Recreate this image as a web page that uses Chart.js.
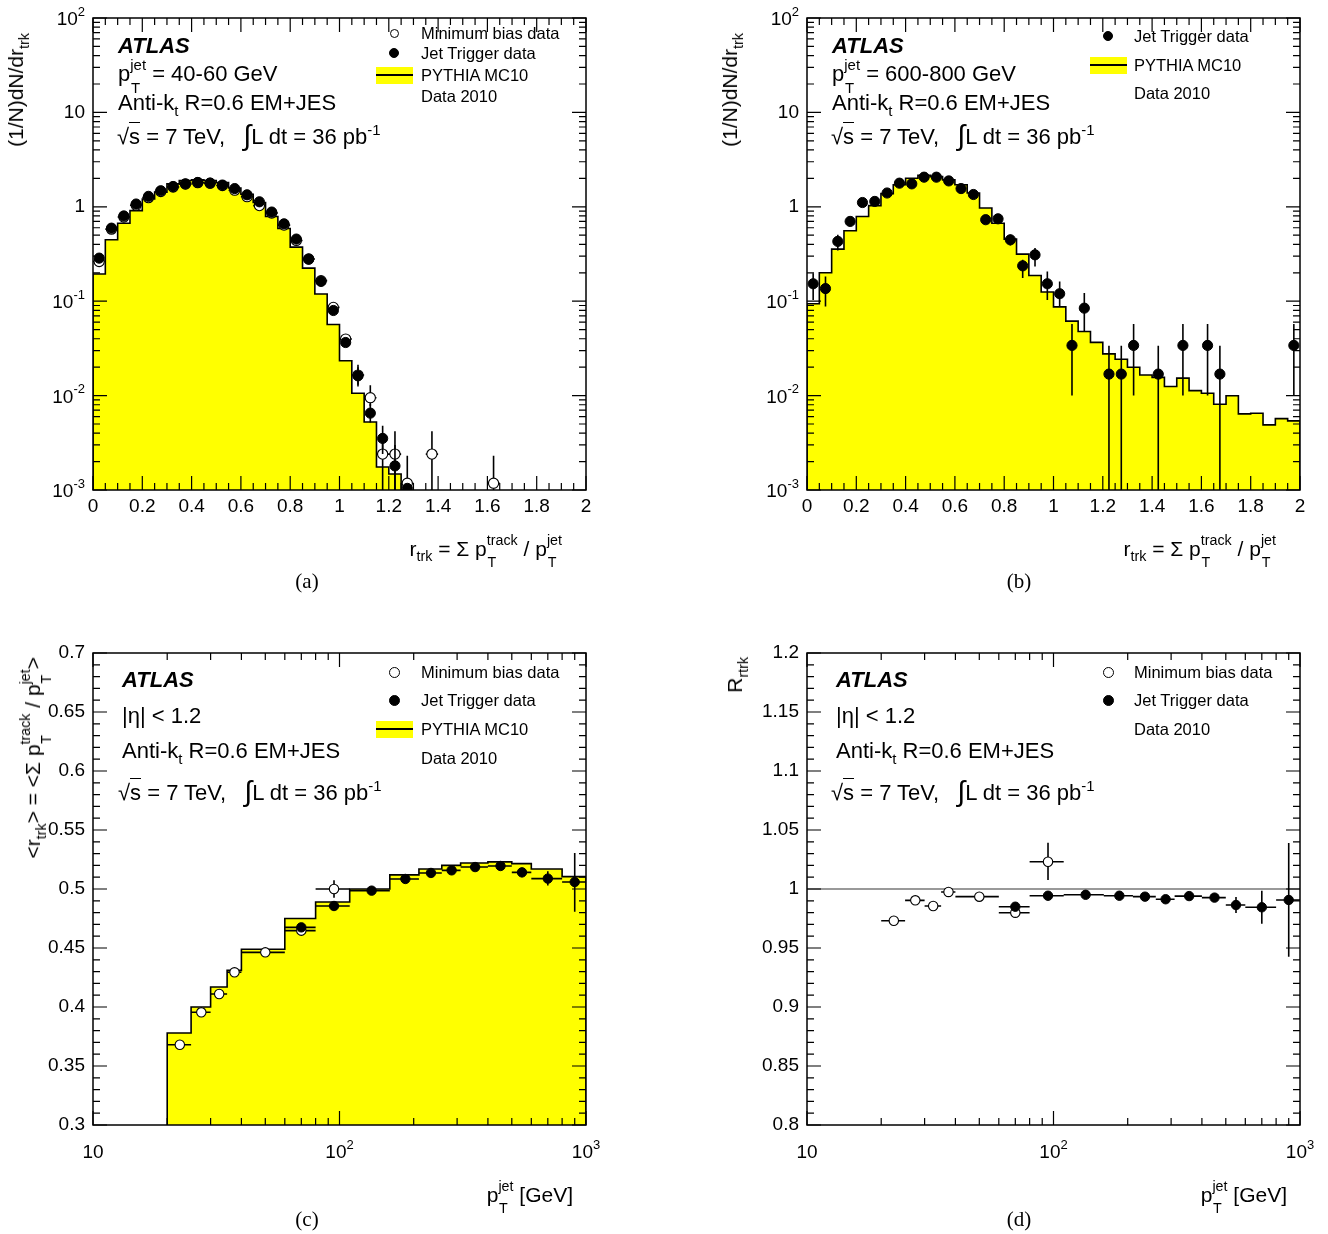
<!DOCTYPE html>
<html>
<head>
<meta charset="utf-8">
<script src="https://cdn.jsdelivr.net/npm/chart.js@4.4.1/dist/chart.umd.min.js"></script>
<style>
    body { margin: 0; background: #fff; }
    #page { position: relative; width: 1328px; height: 1234px; overflow: hidden; font-family: "Liberation Sans", Arial, Helvetica, sans-serif; color: #000; }
    canvas { position: absolute; left: 0; top: 0; }
    .t { position: absolute; white-space: nowrap; line-height: 1; }
    .ss { position: relative; display: inline-block; font-size: 0.68em; line-height: 1; }
    .ss .u { position: relative; top: -0.73em; }
    .ss .d { position: absolute; left: 0.05em; top: 0.8em; }
    .sb { font-size: 0.68em; position: relative; top: 0.4em; }
    .sp { font-size: 0.68em; position: relative; top: -0.6em; }
    .ov { border-top: 1.5px solid #000; padding-top: 1px; }
    .int { font-size: 1.3em; position: relative; top: 0.04em; }
    .cap { font-family: "Liberation Serif", "Times New Roman", serif; }
    .mk { position: absolute; border-radius: 50%; border: 1px solid #000; box-sizing: border-box; }
</style>
</head>
<body>
<div id="page">
    <canvas id="chartA" width="1328" height="1234"></canvas>
    <canvas id="chartB" width="1328" height="1234"></canvas>
    <canvas id="chartC" width="1328" height="1234"></canvas>
    <canvas id="chartD" width="1328" height="1234"></canvas>
</div>
<script>
// === Données ===
// bins en r_trk (a, b)
const rEdges = [0, 0.05, 0.1, 0.15, 0.2, 0.25, 0.3, 0.35, 0.4, 0.45, 0.5, 0.55, 0.6, 0.65, 0.7, 0.75, 0.8, 0.85, 0.9, 0.95,
    1, 1.05, 1.1, 1.15, 1.2, 1.25, 1.3, 1.35, 1.4, 1.45, 1.5, 1.55, 1.6, 1.65, 1.7, 1.75, 1.8, 1.85, 1.9, 1.95, 2];

// (a) pT jet 40-60 GeV
const mcA = [0.194, 0.447, 0.67, 0.91, 1.21, 1.43, 1.75, 1.9, 1.93, 1.9, 1.81, 1.58, 1.36, 1.11, 0.79, 0.59, 0.374, 0.224,
    0.119, 0.0567, 0.0234, 0.0106, 0.00525, 0.00175, 0.00148];
const jetA = [0.286, 0.594, 0.80, 1.07, 1.29, 1.48, 1.64, 1.75, 1.81, 1.78, 1.70, 1.56, 1.34, 1.13, 0.88, 0.66, 0.455, 0.279,
    0.162, 0.0797, 0.0365, 0.0162, 0.00652, 0.00352, 0.0018, 0.00104];
const mbA = [0.263, 0.58, 0.78, 1.04, 1.25, 1.45, 1.62, 1.74, 1.80, 1.78, 1.68, 1.50, 1.28, 1.03, 0.86, 0.64, 0.44, 0.28,
    0.165, 0.086, 0.0397, 0.0165, 0.0095, 0.0024, 0.0024, 0.00118, null, 0.0024, null, null, null, null, 0.00118];
const jetAErr = { 20: [0.033, 0.041], 21: [0.0125, 0.0212], 22: [0.0052, 0.0082], 23: [0.0024, 0.0048], 24: [0.0009, 0.003] };
const mbAErr = { 21: [0.013, 0.02], 22: [0.0077, 0.0129], 23: [0, 0.004], 24: [0, 0.0042], 25: [0, 0.0023], 27: [0, 0.0042], 32: [0, 0.0023] };

// (b) pT jet 600-800 GeV
const mcB = [0.094, 0.2, 0.356, 0.557, 0.79, 1.03, 1.38, 1.71, 2.01, 2.15, 2.09, 1.93, 1.71, 1.40, 0.97, 0.67, 0.455, 0.315,
    0.187, 0.125, 0.087, 0.0615, 0.0478, 0.0366, 0.0277, 0.0243, 0.020, 0.0165, 0.0156, 0.0125, 0.0153, 0.0113, 0.0106,
    0.0081, 0.00995, 0.0064, 0.0065, 0.0049, 0.0057, 0.0054];
const jetB = [0.153, 0.136, 0.43, 0.70, 1.11, 1.14, 1.40, 1.78, 1.75, 2.06, 2.06, 1.88, 1.56, 1.35, 0.73, 0.746, 0.447, 0.237,
    0.31, 0.153, 0.12, 0.034, 0.0844, null, 0.0169, 0.0169, 0.034, null, 0.0169, null, 0.034, null, 0.034, 0.0169,
    null, null, null, null, null, 0.034];
const jetBErr = { 0: [0.103, 0.198], 1: [0.088, 0.183], 2: [0.344, 0.505], 3: [0.64, 0.76], 14: [0.68, 0.78], 15: [0.70, 0.80],
    16: [0.39, 0.51], 17: [0.176, 0.275], 18: [0.233, 0.365], 19: [0.103, 0.206], 20: [0.088, 0.162], 21: [0.01, 0.0575],
    22: [0.048, 0.122], 24: [0, 0.0337], 25: [0, 0.0337], 26: [0.01, 0.0575], 28: [0, 0.0337], 30: [0.01, 0.0575],
    32: [0.01, 0.0575], 33: [0, 0.0337], 39: [0.01, 0.0575] };

// bins en pT jet (c, d)
const ptEdges = [20, 25, 30, 35, 40, 60, 80, 110, 160, 210, 260, 310, 400, 500, 600, 800, 1000];
const ptCenters = [22.5, 27.5, 32.5, 37.5, 50, 70, 95, 135, 185, 235, 285, 355, 450, 550, 700, 900];

// (c) <r_trk>
const mcC = [0.378, 0.400, 0.417, 0.431, 0.449, 0.475, 0.489, 0.500, 0.512, 0.517, 0.520, 0.522, 0.523, 0.5215, 0.517, 0.5105];
const mbC = [0.368, 0.3955, 0.411, 0.4294, 0.4463, 0.4647, 0.500];
const jetC = [null, null, null, null, null, 0.4675, 0.4856, 0.4986, 0.5085, 0.5136, 0.5158, 0.5186, 0.5195, 0.5141, 0.5088, 0.5059];
const mbCErr = { 6: [0.4925, 0.5075] };
const jetCErr = { 13: [0.510, 0.518], 14: [0.503, 0.515], 15: [0.4808, 0.5305] };

// (d) R_rtrk
const mbD = [0.9731, 0.9904, 0.9856, 0.9975, 0.9935, 0.9799, 1.0231];
const jetD = [null, null, null, null, null, 0.985, 0.9943, 0.9951, 0.9943, 0.9935, 0.9913, 0.994, 0.9927, 0.9864, 0.9845, 0.9907];
const mbDErr = { 5: [0.976, 0.984], 6: [1.0076, 1.0392] };
const jetDErr = { 13: [0.9796, 0.9932], 14: [0.9705, 0.9985], 15: [0.9426, 1.039] };

// graduations
const rTickValues = [0, 0.2, 0.4, 0.6, 0.8, 1, 1.2, 1.4, 1.6, 1.8, 2];
const rTickLabels = ['0', '0.2', '0.4', '0.6', '0.8', '1', '1.2', '1.4', '1.6', '1.8', '2'];
const decadeValues = [1e-3, 1e-2, 1e-1, 1, 10, 100];
const decadeLabels = [['10', '-3'], ['10', '-2'], ['10', '-1'], ['1', ''], ['10', ''], ['10', '2']];
const ptTickValues = [10, 100, 1000];
const ptTickLabels = [['10', ''], ['10', '2'], ['10', '3']];
const meanTickValues = [0.3, 0.35, 0.4, 0.45, 0.5, 0.55, 0.6, 0.65, 0.7];
const meanTickLabels = ['0.3', '0.35', '0.4', '0.45', '0.5', '0.55', '0.6', '0.65', '0.7'];
const ratioTickValues = [0.8, 0.85, 0.9, 0.95, 1, 1.05, 1.1, 1.15, 1.2];
const ratioTickLabels = ['0.8', '0.85', '0.9', '0.95', '1', '1.05', '1.1', '1.15', '1.2'];

const W = 1328, H = 1234;
const YELLOW = '#ffff00';
const FONT = '"Liberation Sans", Arial, Helvetica, sans-serif';

// === Construction des points ===
function histPoints(edges, vals, yMin) {
    const pts = [{ x: edges[0], y: yMin }];
    vals.forEach((v, i) => pts.push({ x: edges[i], y: v }));
    pts.push({ x: edges[vals.length], y: vals[vals.length - 1] });
    pts.push({ x: edges[vals.length], y: yMin });
    return pts;
}

function pointSet(centers, edges, vals, errs) {
    const pts = [];
    vals.forEach((v, i) => {
        if (v === null || v === undefined) return;
        const p = { x: centers[i], y: v, xlo: edges[i], xhi: edges[i + 1] };
        if (errs[i]) { p.ylo = errs[i][0]; p.yhi = errs[i][1]; }
        pts.push(p);
    });
    return pts;
}

const rCenters = rEdges.slice(0, -1).map((e, i) => (e + rEdges[i + 1]) / 2);

function minorTicks(from, to, step) {
    const out = [];
    for (let v = from; v <= to + 1e-9; v += step) out.push(+v.toFixed(6));
    return out;
}
function logMinor(d0, d1) {
    const out = [];
    for (let d = d0; d < d1; d++) for (let k = 2; k <= 9; k++) out.push(k * Math.pow(10, d));
    return out;
}

// === Plugins : barres d'erreur + cadre style ROOT ===
const errorBars = {
    id: 'errorBars',
    beforeDatasetDraw(chart, args) {
        const ds = chart.data.datasets[args.index];
        if (!ds.errorBars) return;
        const { ctx, chartArea: a, scales: { x, y } } = chart;
        const py = v => (v <= y.min ? a.bottom + 5 : y.getPixelForValue(v));
        ctx.save();
        ctx.beginPath();
        ctx.rect(a.left, a.top, a.right - a.left, a.bottom - a.top);
        ctx.clip();
        ctx.strokeStyle = '#000';
        ctx.lineWidth = 1.6;
        ctx.beginPath();
        ds.data.forEach(p => {
            const cx = x.getPixelForValue(p.x), cy = y.getPixelForValue(p.y);
            if (ds.xErr) {
                ctx.moveTo(x.getPixelForValue(p.xlo), cy);
                ctx.lineTo(x.getPixelForValue(p.xhi), cy);
            }
            if (p.ylo !== undefined) {
                ctx.moveTo(cx, py(p.ylo));
                ctx.lineTo(cx, py(p.yhi));
            }
        });
        ctx.stroke();
        ctx.restore();
    }
};

function drawLabel(ctx, base, exp, x, y, align) {
    ctx.font = '19px ' + FONT;
    const bw = ctx.measureText(base).width;
    ctx.font = '13px ' + FONT;
    const ew = exp ? ctx.measureText(exp).width : 0;
    const total = bw + ew;
    let x0 = align === 'right' ? x - total : x - total / 2;
    ctx.textAlign = 'left';
    ctx.textBaseline = 'middle';
    ctx.font = '19px ' + FONT;
    ctx.fillText(base, x0, y);
    if (exp) {
        ctx.font = '13px ' + FONT;
        ctx.fillText(exp, x0 + bw, y - 8);
    }
}

const rootFrame = {
    id: 'rootFrame',
    beforeDatasetsDraw(chart, args, o) {
        if (o.refLine === undefined) return;
        const { ctx, chartArea: a, scales: { y } } = chart;
        const py = y.getPixelForValue(o.refLine);
        ctx.save();
        ctx.strokeStyle = '#777';
        ctx.lineWidth = 1.6;
        ctx.beginPath();
        ctx.moveTo(a.left, py);
        ctx.lineTo(a.right, py);
        ctx.stroke();
        ctx.restore();
    },
    afterDraw(chart, args, o) {
        const { ctx, chartArea: a, scales: { x, y } } = chart;
        ctx.save();
        ctx.strokeStyle = '#000';
        ctx.lineWidth = 1.2;
        ctx.beginPath();
        const xt = (v, len) => {
            const px = x.getPixelForValue(v);
            ctx.moveTo(px, a.bottom); ctx.lineTo(px, a.bottom - len);
            ctx.moveTo(px, a.top); ctx.lineTo(px, a.top + len);
        };
        const yt = (v, len) => {
            const py = y.getPixelForValue(v);
            ctx.moveTo(a.left, py); ctx.lineTo(a.left + len, py);
            ctx.moveTo(a.right, py); ctx.lineTo(a.right - len, py);
        };
        o.xMinor.forEach(v => xt(v, 7));
        o.xMajor.forEach(v => xt(v, 14));
        o.yMinor.forEach(v => yt(v, 7));
        o.yMajor.forEach(v => yt(v, 14));
        ctx.stroke();
        ctx.lineWidth = 1.5;
        ctx.strokeRect(a.left, a.top, a.right - a.left, a.bottom - a.top);
        ctx.fillStyle = '#000';
        o.xMajor.forEach((v, i) => {
            const lab = o.xLabels[i];
            const [b, e] = Array.isArray(lab) ? lab : [lab, ''];
            drawLabel(ctx, b, e, x.getPixelForValue(v), a.bottom + o.xLabelOffset, 'center');
        });
        o.yMajor.forEach((v, i) => {
            const lab = o.yLabels[i];
            const [b, e] = Array.isArray(lab) ? lab : [lab, ''];
            drawLabel(ctx, b, e, a.left - 8, y.getPixelForValue(v) + (e ? 2 : 0), 'right');
        });
        ctx.restore();
    }
};

// === Création des graphiques ===
function histDataset(edges, vals, yMin) {
    return {
        type: 'scatter', data: histPoints(edges, vals, yMin), showLine: true, stepped: 'before',
        fill: 'start', backgroundColor: YELLOW, borderColor: '#000', borderWidth: 1.6,
        pointRadius: 0, order: 3
    };
}
function markerDataset(pts, filled, r, xErr) {
    return {
        type: 'scatter', data: pts, errorBars: true, xErr: xErr, pointStyle: 'circle', pointRadius: r,
        pointBackgroundColor: filled ? '#000' : '#fff', pointBorderColor: '#000',
        pointBorderWidth: filled ? 1 : 1.1, order: filled ? 0 : 1
    };
}

function createPanel(id, area, xScale, yScale, datasets, frame) {
    new Chart(document.getElementById(id), {
        type: 'scatter',
        data: { datasets: datasets },
        options: {
            animation: false, responsive: false, devicePixelRatio: 1, events: [],
            layout: { autoPadding: false, padding: { left: area[0], top: area[1], right: W - area[2], bottom: H - area[3] } },
            plugins: { legend: { display: false }, tooltip: { enabled: false }, rootFrame: frame },
            scales: { x: Object.assign({ display: false }, xScale), y: Object.assign({ display: false }, yScale) }
        },
        plugins: [errorBars, rootFrame]
    });
}

const frameR = {
    xMajor: rTickValues, xLabels: rTickLabels, xMinor: minorTicks(0, 2, 0.05), xLabelOffset: 17,
    yMajor: decadeValues, yLabels: decadeLabels, yMinor: logMinor(-3, 2)
};

createPanel('chartA', [93, 18, 586, 490],
    { type: 'linear', min: 0, max: 2 }, { type: 'logarithmic', min: 1e-3, max: 100 },
    [markerDataset(pointSet(rCenters, rEdges, jetA, jetAErr), true, 5.1, false),
     markerDataset(pointSet(rCenters, rEdges, mbA, mbAErr), false, 5.1, true),
     histDataset(rEdges, mcA, 1e-3)], frameR);

createPanel('chartB', [807, 18, 1300, 490],
    { type: 'linear', min: 0, max: 2 }, { type: 'logarithmic', min: 1e-3, max: 100 },
    [markerDataset(pointSet(rCenters, rEdges, jetB, jetBErr), true, 5.1, false),
     histDataset(rEdges, mcB, 1e-3)], frameR);

const framePtX = { xMajor: ptTickValues, xLabels: ptTickLabels, xMinor: logMinor(1, 3), xLabelOffset: 28 };

createPanel('chartC', [93, 653, 586, 1125],
    { type: 'logarithmic', min: 10, max: 1000 }, { type: 'linear', min: 0.3, max: 0.7 },
    [markerDataset(pointSet(ptCenters, ptEdges, jetC, jetCErr), true, 4.7, true),
     markerDataset(pointSet(ptCenters, ptEdges, mbC, mbCErr), false, 4.7, true),
     histDataset(ptEdges, mcC, 0.3)],
    Object.assign({ yMajor: meanTickValues, yLabels: meanTickLabels, yMinor: minorTicks(0.3, 0.7, 0.01) }, framePtX));

createPanel('chartD', [807, 653, 1300, 1125],
    { type: 'logarithmic', min: 10, max: 1000 }, { type: 'linear', min: 0.8, max: 1.2 },
    [markerDataset(pointSet(ptCenters, ptEdges, jetD, jetDErr), true, 4.7, true),
     markerDataset(pointSet(ptCenters, ptEdges, mbD, mbDErr), false, 4.7, true)],
    Object.assign({ yMajor: ratioTickValues, yLabels: ratioTickLabels, yMinor: minorTicks(0.8, 1.2, 0.01), refLine: 1 }, framePtX));

// === Textes ===
const page = document.getElementById('page');

function txt(html, x, cy, size, opt = {}) {
    const d = document.createElement('div');
    d.className = 't' + (opt.cls ? ' ' + opt.cls : '');
    d.innerHTML = html;
    d.style.fontSize = size + 'px';
    d.style.top = (cy - size * 0.49) + 'px';
    if (opt.align === 'right') d.style.right = (W - x) + 'px';
    else if (opt.align === 'center') { d.style.left = x + 'px'; d.style.transform = 'translateX(-50%)'; }
    else d.style.left = x + 'px';
    if (opt.bold) d.style.fontWeight = 'bold';
    if (opt.italic) d.style.fontStyle = 'italic';
    page.appendChild(d);
}

// texte vertical : bord haut des lettres en x, fin du texte en y
function vtxt(html, x, yEnd, size) {
    const d = document.createElement('div');
    d.className = 't';
    d.innerHTML = html;
    d.style.fontSize = size + 'px';
    d.style.left = x + 'px';
    d.style.top = yEnd + 'px';
    d.style.transformOrigin = '0 0';
    d.style.transform = 'rotate(-90deg) translateX(-100%)';
    page.appendChild(d);
}

function marker(x, y, r, filled) {
    const d = document.createElement('div');
    d.className = 'mk';
    d.style.left = (x - r) + 'px';
    d.style.top = (y - r) + 'px';
    d.style.width = d.style.height = (2 * r) + 'px';
    d.style.background = filled ? '#000' : '#fff';
    page.appendChild(d);
}

function mcBox(x, y) {
    const b = document.createElement('div');
    b.style.cssText = `position:absolute;left:${x}px;top:${y - 8.5}px;width:37px;height:17px;background:${YELLOW};`;
    const l = document.createElement('div');
    l.style.cssText = `position:absolute;left:${x}px;top:${y - 0.8}px;width:37px;height:1.6px;background:#000;`;
    page.appendChild(b);
    page.appendChild(l);
}

const pt = sup => `p<span class="ss"><span class="u">${sup}</span><span class="d">T</span></span>`;
const antiKt = 'Anti-k<span class="sb">t</span> R=0.6 EM+JES';
const lumi = '√<span class="ov">s</span> = 7 TeV,&nbsp;&nbsp;&nbsp;<span class="int">∫</span>L dt = 36 pb<span class="sp">-1</span>';
const rTitle = `r<span class="sb">trk</span> = Σ ${pt('track')} / ${pt('jet')}`;
const dndr = '(1/N)dN/dr<span class="sb">trk</span>';

// (a)
txt('ATLAS', 118, 46, 22, { bold: true, italic: true });
txt(`${pt('jet')} = 40-60 GeV`, 118, 74, 22);
txt(antiKt, 118, 103, 22);
txt(lumi, 117, 131, 22);
marker(394, 33, 4.5, false); txt('Minimum bias data', 421, 33, 16.5);
marker(394, 53, 5, true); txt('Jet Trigger data', 421, 53, 16.5);
mcBox(376, 75); txt('PYTHIA MC10', 421, 75, 16.5);
txt('Data 2010', 421, 96, 16.5);
vtxt(dndr, 5, 33, 21);
txt(rTitle, 562, 548, 21, { align: 'right' });
txt('(a)', 307, 581, 21, { align: 'center', cls: 'cap' });

// (b)
txt('ATLAS', 832, 46, 22, { bold: true, italic: true });
txt(`${pt('jet')} = 600-800 GeV`, 832, 74, 22);
txt(antiKt, 832, 103, 22);
txt(lumi, 831, 131, 22);
marker(1108, 36, 5, true); txt('Jet Trigger data', 1134, 36, 16.5);
mcBox(1090, 65); txt('PYTHIA MC10', 1134, 65, 16.5);
txt('Data 2010', 1134, 93, 16.5);
vtxt(dndr, 719, 33, 21);
txt(rTitle, 1276, 548, 21, { align: 'right' });
txt('(b)', 1019, 581, 21, { align: 'center', cls: 'cap' });

// (c)
txt('ATLAS', 122, 680, 22, { bold: true, italic: true });
txt('|η| &lt; 1.2', 122, 716, 22);
txt(antiKt, 122, 751, 22);
txt(lumi, 118, 787, 22);
marker(394, 672, 5.5, false); txt('Minimum bias data', 421, 672, 16.5);
marker(394, 700, 5.5, true); txt('Jet Trigger data', 421, 700, 16.5);
mcBox(376, 729); txt('PYTHIA MC10', 421, 729, 16.5);
txt('Data 2010', 421, 758, 16.5);
vtxt(`&lt;r<span class="sb">trk</span>&gt; = &lt;Σ ${pt('track')} / ${pt('jet')}&gt;`, 22, 657, 21);
txt(`${pt('jet')} [GeV]`, 573, 1194, 21, { align: 'right' });
txt('(c)', 307, 1219, 21, { align: 'center', cls: 'cap' });

// (d)
txt('ATLAS', 836, 680, 22, { bold: true, italic: true });
txt('|η| &lt; 1.2', 836, 716, 22);
txt(antiKt, 836, 751, 22);
txt(lumi, 831, 787, 22);
marker(1108, 672, 5.5, false); txt('Minimum bias data', 1134, 672, 16.5);
marker(1108, 700, 5.5, true); txt('Jet Trigger data', 1134, 700, 16.5);
txt('Data 2010', 1134, 729, 16.5);
vtxt('R<span class="sb">rtrk</span>', 724, 657, 21);
txt(`${pt('jet')} [GeV]`, 1287, 1194, 21, { align: 'right' });
txt('(d)', 1019, 1219, 21, { align: 'center', cls: 'cap' });
</script>
</body>
</html>
